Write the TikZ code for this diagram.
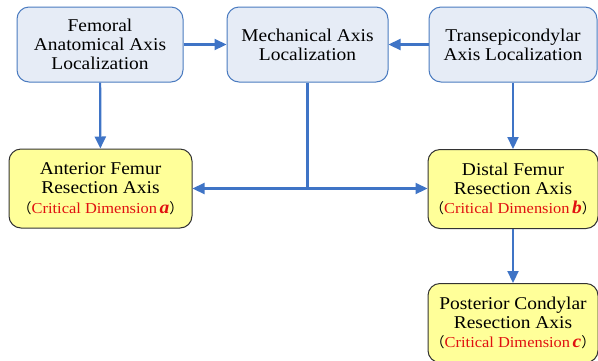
\documentclass[tikz,border=0pt]{standalone}
\usepackage{fontspec}
\usepackage{xcolor}
\setmainfont{Liberation Serif}[FakeStretch=1.08]
\newfontfamily\cjk{Noto Sans CJK SC}
\usetikzlibrary{arrows.meta,positioning,calc}
\definecolor{axisblue}{HTML}{3F74C6}
\definecolor{boxline}{HTML}{4A7BC0}
\definecolor{boxfill}{HTML}{E6ECF6}
\definecolor{resfill}{HTML}{FFFF99}
\definecolor{critred}{HTML}{E01010}
\newcommand{\critdim}[1]{{\cjk\fontsize{14}{19.3}\selectfont （}{\fontsize{15.2}{19.3}\selectfont\color{critred}Critical Dimension\,{\fontsize{18}{19.3}\selectfont\textbf{\textit{#1}}}}{\cjk\fontsize{14}{19.3}\selectfont ）}}

\begin{document}
\begin{tikzpicture}[x=1pt,y=-1pt,
    every node/.style={font=\fontsize{18}{19.3}\selectfont,align=center},
    locbox/.style={draw=boxline,line width=1pt,rounded corners=12pt,fill=boxfill,minimum height=75pt,inner sep=1pt},
    resbox/.style={draw=black!80,line width=1pt,rounded corners=12pt,fill=resfill,minimum height=79pt,inner sep=1pt},
    flow/.style={draw=axisblue,line width=2.2pt,-{Triangle[length=12pt,width=11pt]}}]
        \useasboundingbox (0,0) rectangle (598,360);
        \node[locbox,minimum width=166pt] (fem)   at (100,44.5) {Femoral\\Anatomical Axis\\Localization};
        \node[locbox,minimum width=161pt] (mech)  at (307.5,44.5) {Mechanical Axis\\Localization};
        \node[locbox,minimum width=168pt] (trans) at (513,44.5) {Transepicondylar\\Axis Localization};
        \node[resbox,minimum width=183pt] (ant)   at (100.5,188.5) {Anterior Femur\\Resection Axis\\\critdim{a}};
        \node[resbox,minimum width=170pt] (dist)  at (513,189) {Distal Femur\\Resection Axis\\\critdim{b}};
        \node[resbox,minimum width=170pt] (post)  at (513,323) {Posterior Condylar\\Resection Axis\\\critdim{c}};
        \coordinate (split) at (mech.south |- ant.east);
        \draw[flow] (fem)--(mech);
        \draw[flow] (trans)--(mech);
        \draw[flow] (fem)--(ant);
        \draw[flow] (trans)--(dist);
        \draw[flow] (dist)--(post);
        \draw[draw=axisblue,line width=2.2pt] (mech.south)--(split);
        \draw[flow] (split)--(ant.east);
        \draw[flow] (split)--(split -| dist.west);
      \end{tikzpicture}
\end{document}
